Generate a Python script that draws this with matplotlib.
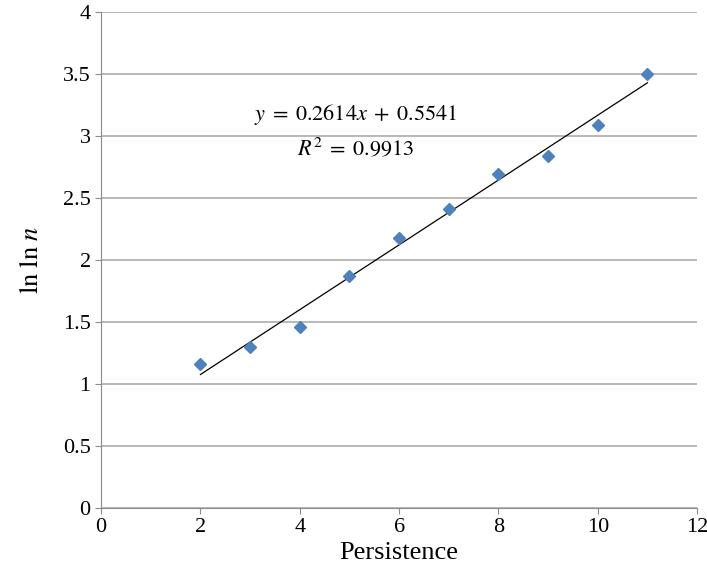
import matplotlib
matplotlib.use("Agg")
import matplotlib.pyplot as plt
import numpy as np

# data
persistence = [2, 3, 4, 5, 6, 7, 8, 9, 10, 11]
lnln_n = [1.164, 1.296, 1.462, 1.871, 2.177, 2.411, 2.694, 2.839, 3.091, 3.503]
slope = 0.2614
intercept = 0.5541
r_squared = 0.9913

plt.rcParams['font.family'] = ['Liberation Serif', 'DejaVu Serif']
plt.rcParams['mathtext.fontset'] = 'stix'

fig = plt.figure(figsize=(7.07, 5.75), dpi=100)
ax = fig.add_axes([0.143, 0.1165, 0.843, 0.8625])

# trend line over the range of the data
xs = np.array([min(persistence), max(persistence)])
ax.plot(xs, slope * xs + intercept, color='black', lw=0.9, zorder=2)

ax.plot(persistence, lnln_n, ls='none', marker='D', markersize=6,
        color='#4F81BD', markeredgecolor='#4F81BD', zorder=3)

ax.text(5.12, 3.17, rf'$y\;=\;{slope}x\;+\;{intercept}$', fontsize=16, ha='center', va='center')
ax.text(5.12, 2.90, rf'$R^2\;=\;{r_squared}$', fontsize=16, ha='center', va='center')

ax.set_xlim(0, 12)
ax.set_ylim(0, 4)
ax.set_xticks(np.arange(0, 13, 2))
ax.set_yticks(np.arange(0, 4.01, 0.5))
ax.set_yticklabels(['0', '0.5', '1', '1.5', '2', '2.5', '3', '3.5', '4'])

ax.yaxis.grid(True, color='#A6A6A6', lw=1.1)
ax.set_axisbelow(True)
for side in ['top', 'right']:
    ax.spines[side].set_visible(False)
for side in ['left', 'bottom']:
    ax.spines[side].set_color('#8C8C8C')
ax.tick_params(axis='both', colors='#8C8C8C', labelcolor='black', labelsize=16,
               length=4, direction='out')
ax.tick_params(axis='x', pad=3)

ax.set_xlabel('Persistence', fontsize=19, labelpad=4)
ax.set_ylabel(r'$\mathrm{ln}\ \mathrm{ln}\ n$', fontsize=19, labelpad=14)

fig.savefig('out.png', dpi=100)
